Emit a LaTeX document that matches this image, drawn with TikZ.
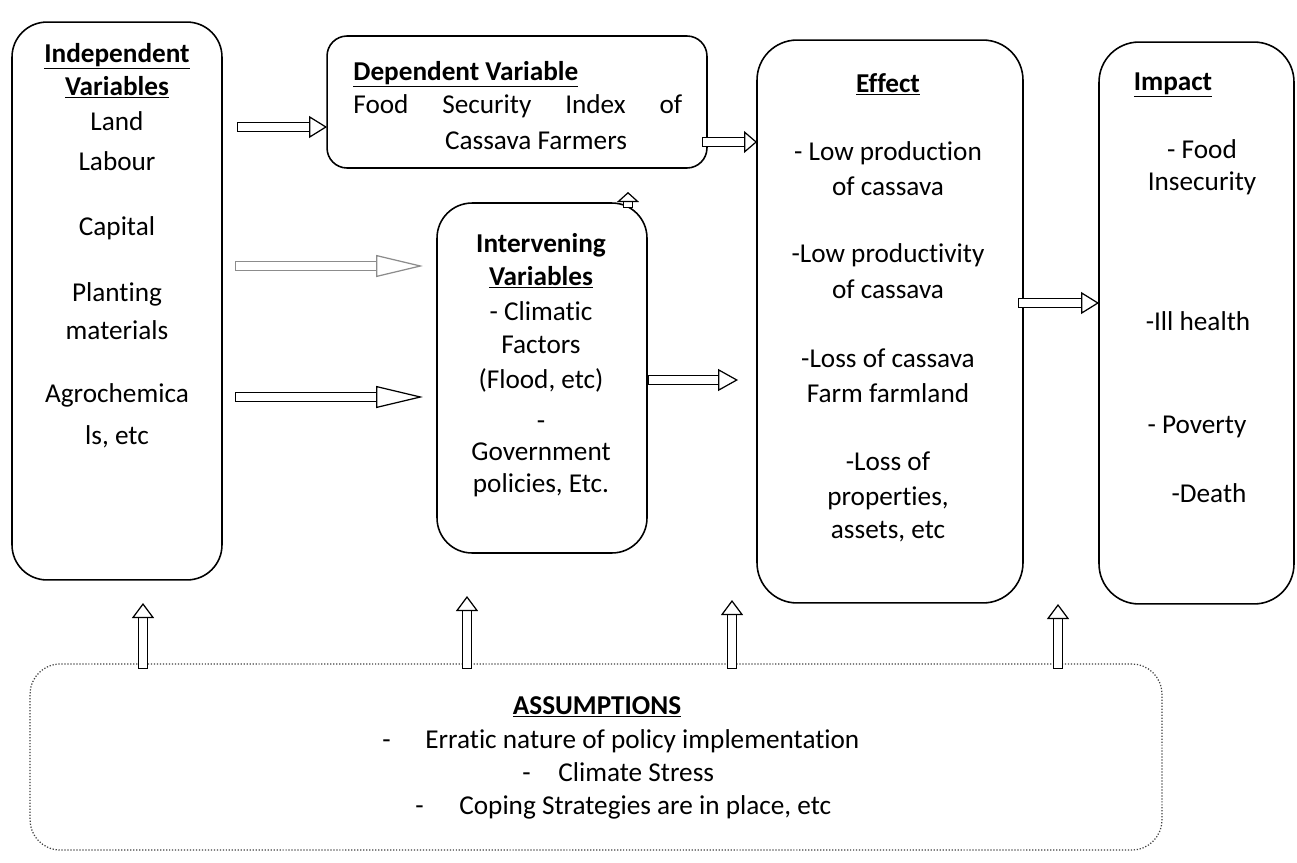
\documentclass[tikz,border=0pt]{standalone}
\usepackage{fontspec}
\setmainfont{Carlito}[Ligatures=CommonOff]
\usetikzlibrary{positioning, arrows.meta}
\tikzset{
block/.style={
  draw,
  rectangle,
  rounded corners=0.7cm,
  line width=0.9pt,
  inner sep=0pt, outer sep=0pt
  },
txt/.style={anchor=base, inner sep=0pt},
fat/.style={double, double distance=4.5pt, line width=0.7pt, line cap=rect, -{Triangle[fill=white, length=#1, width=0.44cm]}},
fat/.default=0.36cm
}
\begin{document}
\begin{tikzpicture}[x=0.02cm, y=-0.02cm, font=\fontsize{15.5}{19}\selectfont]
\useasboundingbox (0,0) rectangle (1297,862);
\node[block, minimum width=4.2cm, minimum height=11.16cm] (indep) at (117,301) {};
\node[block, rounded corners=0.4cm, minimum width=7.6cm, minimum height=2.64cm] (dep) at (517,102) {};
\node[block, minimum width=4.2cm, minimum height=7cm] (interv) at (542,378) {};
\node[block, rounded corners=0.8cm, minimum width=5.32cm, minimum height=11.26cm] (effect) at (890,321.5) {};
\node[block, rounded corners=0.8cm, minimum width=3.9cm, minimum height=11.24cm] (impact) at (1196.5,323) {};
\node[block, draw=black!75, line width=0.7pt, densely dotted, rounded corners=0.6cm, minimum width=22.64cm, minimum height=3.72cm] (assump) at (596,757) {};

\node[txt] (indHead) at (117,62) {\textbf{\underline{Independent}}};
\node[txt] (indHeadB) at (117,95) {\textbf{\underline{Variables}}};
\node[txt] (land) at (117,130) {Land};
\node[txt] (labour) at (117,170) {Labour};
\node[txt] (capital) at (117,235) {Capital};
\node[txt] (planting) at (117,301) {Planting};
\node[txt] (materials) at (117,339) {materials};
\node[txt] (agro) at (117,402) {Agrochemica};
\node[txt] (agroB) at (117,444) {ls, etc};

\node[txt, anchor=base west] (depHead) at (353,80) {\textbf{\underline{Dependent Variable}}};
\node[txt, anchor=base west] (fsi) at (353,113) {\makebox[6.58cm][s]{Food\hfill Security\hfill Index\hfill of}};
\node[txt] (farmers) at (536,149) {Cassava Farmers};

\node[txt] (intHead) at (541,252) {\textbf{Intervening}};
\node[txt] (intHeadB) at (541,285) {\textbf{\underline{Variables}}};
\node[txt] (climatic) at (541,320) {- Climatic};
\node[txt] (factors) at (541,353) {Factors};
\node[txt] (flood) at (541,388) {(Flood, etc)};
\node[txt] (dash) at (541,429) {-};
\node[txt] (govt) at (541,460) {Government};
\node[txt] (policies) at (541,492) {policies, Etc.};

\node[txt] (effHead) at (888,92) {\textbf{\underline{Effect}}};
\node[txt] (lowprod) at (888,160) {- Low production};
\node[txt] (lowprodB) at (888,195) {of cassava};
\node[txt] (lowpty) at (888,262) {-Low productivity};
\node[txt] (lowptyB) at (888,298) {of cassava};
\node[txt] (lossfarm) at (888,367) {-Loss of cassava};
\node[txt] (lossfarmB) at (888,402) {Farm farmland};
\node[txt] (lossprop) at (888,470) {-Loss of};
\node[txt] (losspropB) at (888,505) {properties,};
\node[txt] (losspropC) at (888,538) {assets, etc};

\node[txt] (impHead) at (1173,90) {\textbf{\underline{Impact}}};
\node[txt] (food) at (1202,158) {- Food};
\node[txt] (foodB) at (1202,190) {Insecurity};
\node[txt] (health) at (1198,330) {-Ill health};
\node[txt] (poverty) at (1197,433) {- Poverty};
\node[txt] (death) at (1209,502) {-Death};

\node[txt] (assHead) at (597,714) {\textbf{\underline{ASSUMPTIONS}}};
\node[txt, anchor=base west] (erratic) at (382,748) {\makebox[0.86cm][l]{-}Erratic nature of policy implementation};
\node[txt, anchor=base west] (stress) at (522,781) {\makebox[0.72cm][l]{-}Climate Stress};
\node[txt, anchor=base west] (coping) at (415,814) {\makebox[0.88cm][l]{-}Coping Strategies are in place, etc};

\coordinate (upTip) at (628,192);
\coordinate (up1) at (143,603);
\coordinate (up2) at (467,596);
\coordinate (up3) at (732,600);
\coordinate (up4) at (1058,604);

\draw[fat, shorten <=0.4cm] (indep.east |- 0,127) -- (dep.west |- 0,127);
\draw[fat=0.94cm, draw=black!45, shorten <=0.36cm, shorten >=0.28cm] (indep.east |- 0,266) -- (interv.west |- 0,266);
\draw[fat=0.94cm, shorten <=0.36cm, shorten >=0.28cm] (indep.east |- 0,397) -- (interv.west |- 0,397);
\draw[fat=0.4cm, shorten <=0.12cm, shorten >=0.38cm] (interv.east |- 0,380) -- (effect.west |- 0,380);
\draw[fat=0.26cm] (dep.east |- 0,142) -- (effect.west |- 0,142);
\draw[fat=0.2cm] (interv.north -| upTip) -- (upTip);
\draw[fat] (effect.east |- 0,303) -- (impact.west |- 0,303);
\draw[fat=0.3cm] (assump.north -| up1) -- (up1);
\draw[fat=0.3cm] (assump.north -| up2) -- (up2);
\draw[fat=0.3cm] (assump.north -| up3) -- (up3);
\draw[fat=0.3cm] (assump.north -| up4) -- (up4);
\end{tikzpicture}
\end{document}
